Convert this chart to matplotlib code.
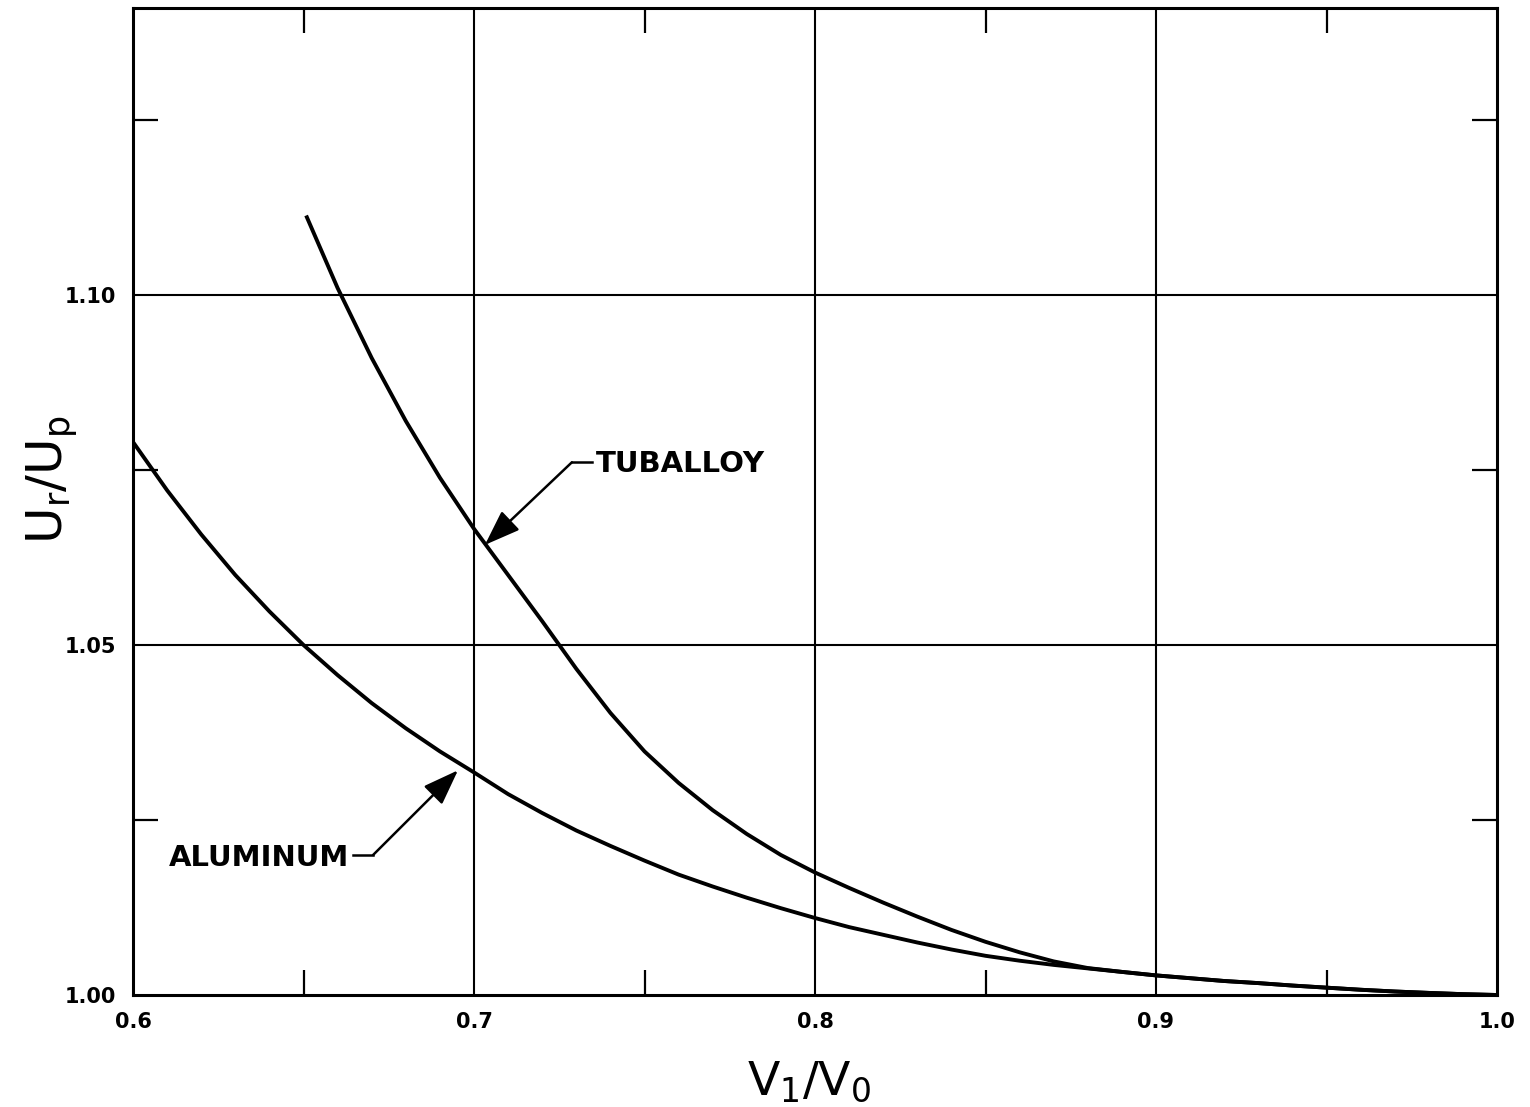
import matplotlib
matplotlib.use("Agg")
import matplotlib.pyplot as plt
from matplotlib.ticker import FixedLocator

# ---- data ----
tuballoy_x = [0.651, 0.66, 0.67, 0.68, 0.69, 0.70, 0.71, 0.72, 0.73, 0.74, 0.75,
              0.76, 0.77, 0.78, 0.79, 0.80, 0.81, 0.82, 0.83, 0.84, 0.85, 0.86,
              0.87, 0.88, 0.89, 0.90, 0.91, 0.92, 0.93, 0.94, 0.95, 0.96, 0.97,
              0.98, 0.99, 1.00]
tuballoy_y = [1.1111, 1.1010, 1.0910, 1.0820, 1.0739, 1.0666, 1.0600, 1.0534, 1.0466,
              1.0403, 1.0348, 1.0303, 1.0264, 1.0230, 1.0200, 1.0175, 1.0153, 1.0132,
              1.0112, 1.0093, 1.0076, 1.0061, 1.0048, 1.00385, 1.0033, 1.0028, 1.0024,
              1.0020, 1.0017, 1.00135, 1.00105, 1.00075, 1.0005, 1.0003, 1.00012, 1.0000]

aluminum_x = [0.60, 0.61, 0.62, 0.63, 0.64, 0.65, 0.66, 0.67, 0.68, 0.69, 0.70,
              0.71, 0.72, 0.73, 0.74, 0.75, 0.76, 0.77, 0.78, 0.79, 0.80, 0.81,
              0.82, 0.83, 0.84, 0.85, 0.86, 0.87, 0.88, 0.89, 0.90, 0.91, 0.92,
              0.93, 0.94, 0.95, 0.96, 0.97, 0.98, 0.99, 1.00]
aluminum_y = [1.0790, 1.0721, 1.0658, 1.0600, 1.0548, 1.0500, 1.0457, 1.0417, 1.0381,
              1.0348, 1.0318, 1.0287, 1.0260, 1.0235, 1.0213, 1.0192, 1.0172, 1.0155,
              1.0139, 1.0124, 1.0110, 1.0097, 1.0086, 1.0075, 1.0065, 1.0056, 1.0049,
              1.0043, 1.0038, 1.0033, 1.0028, 1.0024, 1.0020, 1.0017, 1.00135, 1.00105,
              1.00075, 1.0005, 1.0003, 1.00012, 1.0000]

x_ticks = [0.6, 0.7, 0.8, 0.9, 1.0]
x_ticklabels = ["0.6", "0.7", "0.8", "0.9", "1.0"]
y_ticks = [1.00, 1.05, 1.10]
y_ticklabels = ["1.00", "1.05", "1.10"]
x_minor = [0.65, 0.75, 0.85, 0.95]
y_minor = [1.025, 1.075, 1.125]

plt.rcParams['mathtext.fontset'] = 'dejavusans'

fig = plt.figure(figsize=(15.3, 11.07), dpi=100)
ax = fig.add_axes([133/1530, 1 - 995/1107, (1497-133)/1530, (995-8)/1107])

ax.set_xlim(0.6, 1.0)
ax.set_ylim(1.0, 1.141)

ax.plot(tuballoy_x, tuballoy_y, color='black', lw=2.8, solid_joinstyle='round')
ax.plot(aluminum_x, aluminum_y, color='black', lw=2.8, solid_joinstyle='round')

# grid at interior major positions
for xv in x_ticks[1:-1]:
    ax.axvline(xv, color='black', lw=1.5, zorder=1)
for yv in y_ticks[1:]:
    ax.axhline(yv, color='black', lw=1.5, zorder=1)

for s in ax.spines.values():
    s.set_linewidth(2.2)

ax.xaxis.set_major_locator(FixedLocator(x_ticks))
ax.set_xticklabels(x_ticklabels)
ax.yaxis.set_major_locator(FixedLocator(y_ticks))
ax.set_yticklabels(y_ticklabels)
ax.xaxis.set_minor_locator(FixedLocator(x_minor))
ax.yaxis.set_minor_locator(FixedLocator(y_minor))

ax.tick_params(which='major', length=0, labelsize=15, pad=12)
ax.tick_params(which='minor', direction='in', length=18, width=1.6,
               top=True, right=True, bottom=True, left=True)
for lab in ax.get_xticklabels() + ax.get_yticklabels():
    lab.set_fontweight('bold')

xl = ax.set_xlabel(r'$\mathrm{V_1/V_0}$', fontsize=34)
yl = ax.set_ylabel(r'$\mathrm{U_r/U_p}$', fontsize=36)
xl.set_va('center')
yl.set_va('center')
ax.xaxis.set_label_coords(0.496, -0.088)
ax.yaxis.set_label_coords(-0.059, 0.522)

arrow = dict(arrowstyle='-|>,head_length=1.1,head_width=0.4', mutation_scale=20,
             color='black', lw=1.8, shrinkA=0, shrinkB=0)

# TUBALLOY label
ax.plot([0.7287, 0.7346], [1.0761, 1.0761], color='black', lw=1.8)
ax.annotate('', xy=(0.7032, 1.0643), xytext=(0.7287, 1.0761), arrowprops=arrow)
ax.text(0.7358, 1.0758, 'TUBALLOY', fontsize=21, fontweight='bold',
        ha='left', va='center')

# ALUMINUM label
ax.plot([0.6645, 0.6704], [1.0200, 1.0200], color='black', lw=1.8)
ax.annotate('', xy=(0.6953, 1.0321), xytext=(0.6704, 1.0200), arrowprops=arrow)
ax.text(0.6635, 1.0196, 'ALUMINUM', fontsize=21, fontweight='bold',
        ha='right', va='center')

fig.savefig('out.png', dpi=100, facecolor='white')
